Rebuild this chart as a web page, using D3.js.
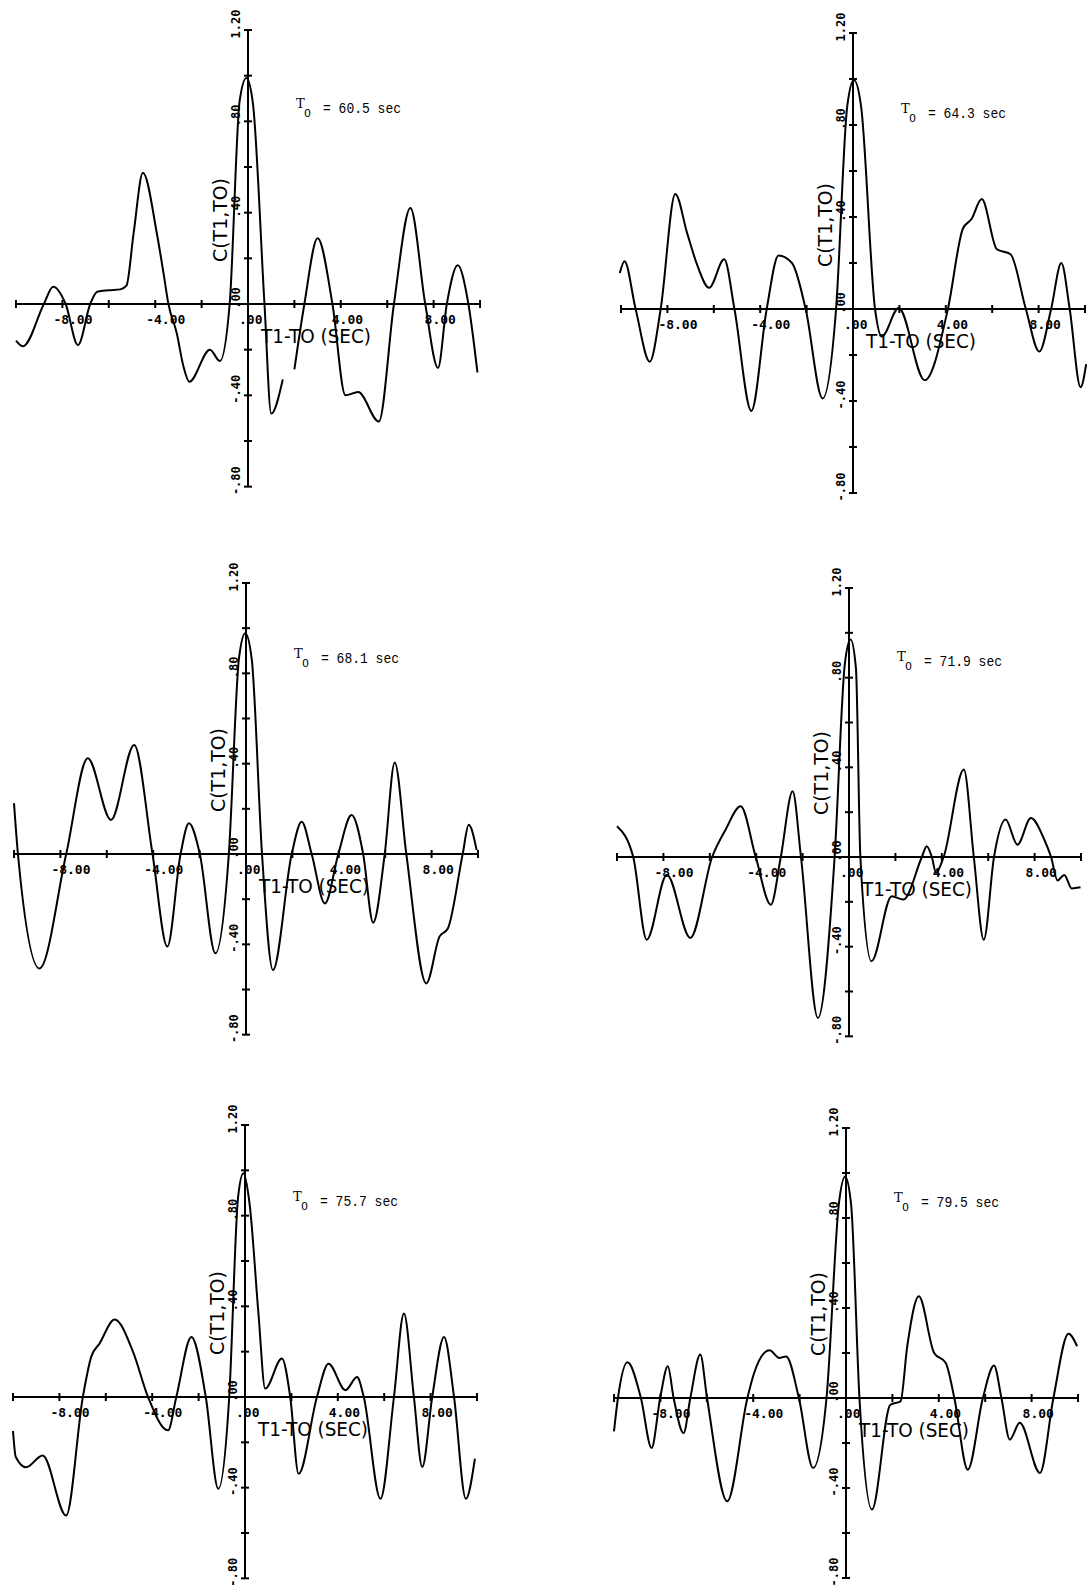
<!DOCTYPE html>
<html>
<head>
<meta charset="utf-8">
<script src="https://cdn.jsdelivr.net/npm/d3@7"></script>
<style>
    body { margin: 0; background: #fff; }
    svg { display: block; }
</style>
</head>
<body>
<div id="container"></div>
<script>
// time labels of the six panels (T0, sec)
const titles = ["60.5", "64.3", "68.1", "71.9", "75.7", "79.5"];

// axis ticks
const xTicks = [-10, -8, -6, -4, -2, 0, 2, 4, 6, 8, 10];
const xTickLabels = [-8, -4, 0, 4, 8];
const yTicks = [-0.8, -0.6, -0.4, -0.2, 0, 0.2, 0.4, 0.6, 0.8, 1.0, 1.2];
const yTickLabels = [1.2, 0.8, 0.4, 0, -0.4, -0.8];

// T1-T0 (sec) and C(T1,T0); null = pen lift
const lag1 = [-10.0, -9.7, -8.8, -8.4, -7.86, -7.33, -6.8, -6.5, -6.0, -5.5, -5.24, -4.93, -4.53, -3.93, -3.64, -3.43, -3.07, -2.79, -2.53, -1.64, -1.21, -0.79, -0.36, -0.07, 0.21, 0.71, 1.0, 1.5, 1.75, 2.0, 2.43, 3.0, 3.64, 4.2, 4.75, 5.64, 6.29, 7.0, 7.64, 8.19, 8.57, 9.04, 9.5, 9.89];
const corr1 = [-0.16, -0.185, 0.0, 0.076, 0.0, -0.18, 0.0, 0.054, 0.06, 0.064, 0.08, 0.31, 0.575, 0.31, 0.134, 0.0, -0.128, -0.27, -0.34, -0.20, -0.25, 0.0, 0.89, 0.99, 0.88, 0.0, -0.48, -0.33, null, -0.286, 0.0, 0.288, 0.0, -0.40, -0.385, -0.515, 0.0, 0.42, 0.0, -0.28, 0.0, 0.17, 0.0, -0.30];

const lag2 = [-10.05, -9.85, -9.37, -8.76, -8.29, -7.66, -7.15, -6.7, -6.2, -5.55, -5.11, -4.38, -3.72, -3.21, -2.63, -2.04, -1.31, -0.73, -0.25, 0.04, 0.35, 0.95, 1.24, 1.97, 3.09, 4.09, 4.74, 5.1, 5.55, 6.2, 6.79, 7.45, 8.03, 8.54, 8.98, 9.34, 9.81, 10.05];
const corr2 = [0.157, 0.208, 0.0, -0.229, 0.0, 0.5, 0.33, 0.187, 0.092, 0.216, 0.0, -0.443, 0.0, 0.233, 0.2, 0.0, -0.389, 0.0, 0.88, 0.996, 0.88, 0.0, -0.12, 0.004, -0.31, 0.0, 0.35, 0.39, 0.478, 0.26, 0.238, 0.0, -0.185, 0.0, 0.2, 0.0, -0.34, -0.24];

const lag3 = [-10.0, -9.83, -8.9, -7.75, -6.82, -5.82, -4.82, -4.03, -3.39, -2.82, -2.46, -1.99, -1.32, -0.74, -0.3, -0.03, 0.25, 0.69, 1.16, 1.97, 2.4, 2.83, 3.4, 3.98, 4.55, 5.05, 5.48, 5.98, 6.41, 6.91, 7.77, 8.34, 8.7, 9.34, 9.6, 9.94];
const corr3 = [0.225, 0.0, -0.507, 0.0, 0.424, 0.151, 0.483, 0.0, -0.41, 0.0, 0.136, 0.0, -0.44, 0.0, 0.87, 0.978, 0.86, 0.0, -0.514, 0.0, 0.143, 0.0, -0.219, 0.0, 0.173, 0.0, -0.304, 0.0, 0.405, 0.0, -0.573, -0.366, -0.33, 0.0, 0.129, 0.018];

const lag4 = [-10.0, -9.3, -8.72, -7.85, -6.84, -5.9, -5.32, -4.67, -4.02, -3.37, -2.94, -2.43, -2.07, -1.34, -0.62, -0.18, 0.07, 0.3, 0.49, 0.97, 1.84, 2.34, 3.14, 3.35, 3.57, 3.75, 4.08, 4.95, 5.38, 5.81, 6.25, 6.75, 7.26, 7.84, 8.42, 8.71, 8.99, 9.28, 9.6, 9.98];
const corr4 = [0.137, 0.0, -0.369, -0.079, -0.361, 0.0, 0.122, 0.226, 0.0, -0.213, 0.0, 0.293, 0.0, -0.718, 0.0, 0.86, 0.97, 0.84, 0.0, -0.465, -0.175, -0.19, 0.0, 0.048, 0.0, -0.07, 0.0, 0.39, 0.0, -0.369, 0.0, 0.167, 0.055, 0.174, 0.077, 0.0, -0.105, -0.08, -0.14, -0.135];

const lag5 = [-10.0, -9.88, -9.44, -8.72, -7.71, -6.99, -6.63, -6.27, -5.62, -4.83, -4.18, -3.32, -2.96, -2.31, -1.69, -1.15, -0.68, -0.3, -0.07, 0.2, 0.58, 0.87, 1.59, 1.95, 2.31, 3.1, 3.6, 4.33, 4.83, 5.12, 5.84, 6.42, 6.85, 7.28, 7.64, 8.07, 8.58, 9.01, 9.52, 9.91];
const corr5 = [-0.15, -0.265, -0.31, -0.258, -0.523, 0.0, 0.177, 0.236, 0.342, 0.2, 0.0, -0.147, 0.0, 0.265, 0.0, -0.405, 0.0, 0.88, 0.987, 0.85, 0.368, 0.037, 0.17, 0.0, -0.339, 0.0, 0.147, 0.03, 0.088, 0.0, -0.449, 0.0, 0.368, 0.0, -0.309, 0.0, 0.265, 0.0, -0.449, -0.272];

const lag6 = [-10.0, -9.83, -9.42, -8.84, -8.38, -8.01, -7.68, -7.43, -7.0, -6.71, -6.28, -5.99, -5.12, -4.25, -3.96, -3.3, -2.87, -2.58, -2.03, -1.42, -0.84, -0.3, -0.04, 0.22, 0.58, 1.12, 1.91, 2.35, 2.64, 3.14, 3.8, 4.3, 4.67, 5.25, 5.9, 6.38, 6.7, 7.06, 7.49, 8.36, 8.94, 9.59, 9.96];
const corr6 = [-0.148, 0.0, 0.159, 0.0, -0.222, 0.0, 0.141, 0.0, -0.156, 0.0, 0.193, 0.0, -0.459, 0.0, 0.111, 0.212, 0.178, 0.185, 0.0, -0.311, 0.0, 0.87, 0.985, 0.86, 0.0, -0.496, -0.03, -0.015, 0.23, 0.452, 0.2, 0.156, 0.0, -0.319, 0.0, 0.144, 0.0, -0.185, -0.11, -0.333, 0.0, 0.286, 0.23];

const lags = [lag1, lag2, lag3, lag4, lag5, lag6];
const corrs = [corr1, corr2, corr3, corr4, corr5, corr6];

// where each panel's origin sits on the page, and where 1.20 sits
const panels = [
    {x0: 248, y0: 304, top: 30},
    {x0: 853, y0: 309, top: 33},
    {x0: 246, y0: 854, top: 583},
    {x0: 849, y0: 857, top: 588},
    {x0: 245, y0: 1397, top: 1125},
    {x0: 846, y0: 1398, top: 1128}
];
const halfWidth = 232;

const monoFont = "'DejaVu Sans Mono', monospace";
const sansFont = "'DejaVu Sans', sans-serif";

// ".80", "-.40", "4.00" style labels (plain hyphen, no leading zero)
function plotLabel(v) {
    return d3.format(".2f")(v).replace("\u2212", "-").replace(/^(-?)0\./, "$1.");
}

let svg = d3.select("#container").append("svg")
    .attr("width", 1087)
    .attr("height", 1590)
    .style("background", "#fff");

panels.forEach(function(p, k) {
    let x = d3.scaleLinear().domain([-10, 10]).range([p.x0 - halfWidth, p.x0 + halfWidth]);
    let y = d3.scaleLinear().domain([0, 1.2]).range([p.y0, p.top]);

    let g = svg.append("g").attr("class", "panel");

    // axes
    g.append("line")
        .attr("x1", x(-10)).attr("x2", x(10))
        .attr("y1", y(0)).attr("y2", y(0))
        .style("stroke", "#000").style("stroke-width", 2);

    g.append("line")
        .attr("x1", x(0)).attr("x2", x(0))
        .attr("y1", y(-0.8)).attr("y2", y(1.2))
        .style("stroke", "#000").style("stroke-width", 2);

    // tick crosses
    g.selectAll(".xtick")
        .data(xTicks)
        .enter().append("line")
        .attr("class", "xtick")
        .attr("x1", d => x(d)).attr("x2", d => x(d))
        .attr("y1", y(0) - 4).attr("y2", y(0) + 4)
        .style("stroke", "#000").style("stroke-width", 2);

    g.selectAll(".ytick")
        .data(yTicks)
        .enter().append("line")
        .attr("class", "ytick")
        .attr("x1", x(0) - 4).attr("x2", x(0) + 4)
        .attr("y1", d => y(d)).attr("y2", d => y(d))
        .style("stroke", "#000").style("stroke-width", 2);

    // x tick labels, first digit sits on the tick
    g.selectAll(".xlabel")
        .data(xTickLabels)
        .enter().append("text")
        .attr("class", "xlabel")
        .attr("x", d => x(d) - 9)
        .attr("y", y(0) + 20)
        .style("font-family", monoFont)
        .style("font-weight", "bold")
        .style("font-size", "13px")
        .text(d => plotLabel(d));

    // y tick labels, written upwards
    g.selectAll(".ylabel")
        .data(yTickLabels)
        .enter().append("text")
        .attr("class", "ylabel")
        .attr("transform", d => "translate(" + (x(0) - 8) + "," + (y(d) - 6) + ") rotate(-90)")
        .attr("text-anchor", "middle")
        .style("font-family", monoFont)
        .style("font-weight", "bold")
        .style("font-size", "12px")
        .text(d => plotLabel(d));

    // axis titles
    g.append("text")
        .attr("x", x(0) + 13)
        .attr("y", y(0) + 39)
        .attr("textLength", 110)
        .attr("lengthAdjust", "spacingAndGlyphs")
        .style("font-family", sansFont)
        .style("font-size", "19px")
        .text("T1-TO (SEC)");

    g.append("text")
        .attr("transform", "translate(" + (x(0) - 21) + "," + (y(0) - 84) + ") rotate(-90)")
        .attr("text-anchor", "middle")
        .attr("textLength", 84)
        .attr("lengthAdjust", "spacingAndGlyphs")
        .style("font-family", sansFont)
        .style("font-size", "19px")
        .text("C(T1,TO)");

    // T0 = ... sec
    let tx = x(0) + 48, ty = y(0) - 196;
    g.append("text")
        .attr("x", tx).attr("y", ty)
        .style("font-family", "'DejaVu Serif', serif")
        .style("font-size", "13px")
        .text("T");
    g.append("text")
        .attr("x", tx + 8).attr("y", ty + 9)
        .style("font-family", "'DejaVu Sans', sans-serif")
        .style("font-size", "11px")
        .text("0");
    g.append("text")
        .attr("x", tx + 27).attr("y", ty + 5)
        .attr("textLength", 78)
        .attr("lengthAdjust", "spacingAndGlyphs")
        .style("font-family", "'Liberation Mono', monospace")
        .style("font-size", "14px")
        .text("= " + titles[k] + " sec");

    // correlation curve
    let pts = lags[k].map((t, i) => ({t: t, c: corrs[k][i]}));
    let line = d3.line()
        .defined(d => d.c !== null)
        .x(d => x(d.t))
        .y(d => y(d.c))
        .curve(d3.curveMonotoneX);

    g.append("path")
        .datum(pts)
        .attr("d", line)
        .style("fill", "none")
        .style("stroke", "#000")
        .style("stroke-width", 2)
        .style("stroke-linejoin", "round");
});
</script>
</body>
</html>
